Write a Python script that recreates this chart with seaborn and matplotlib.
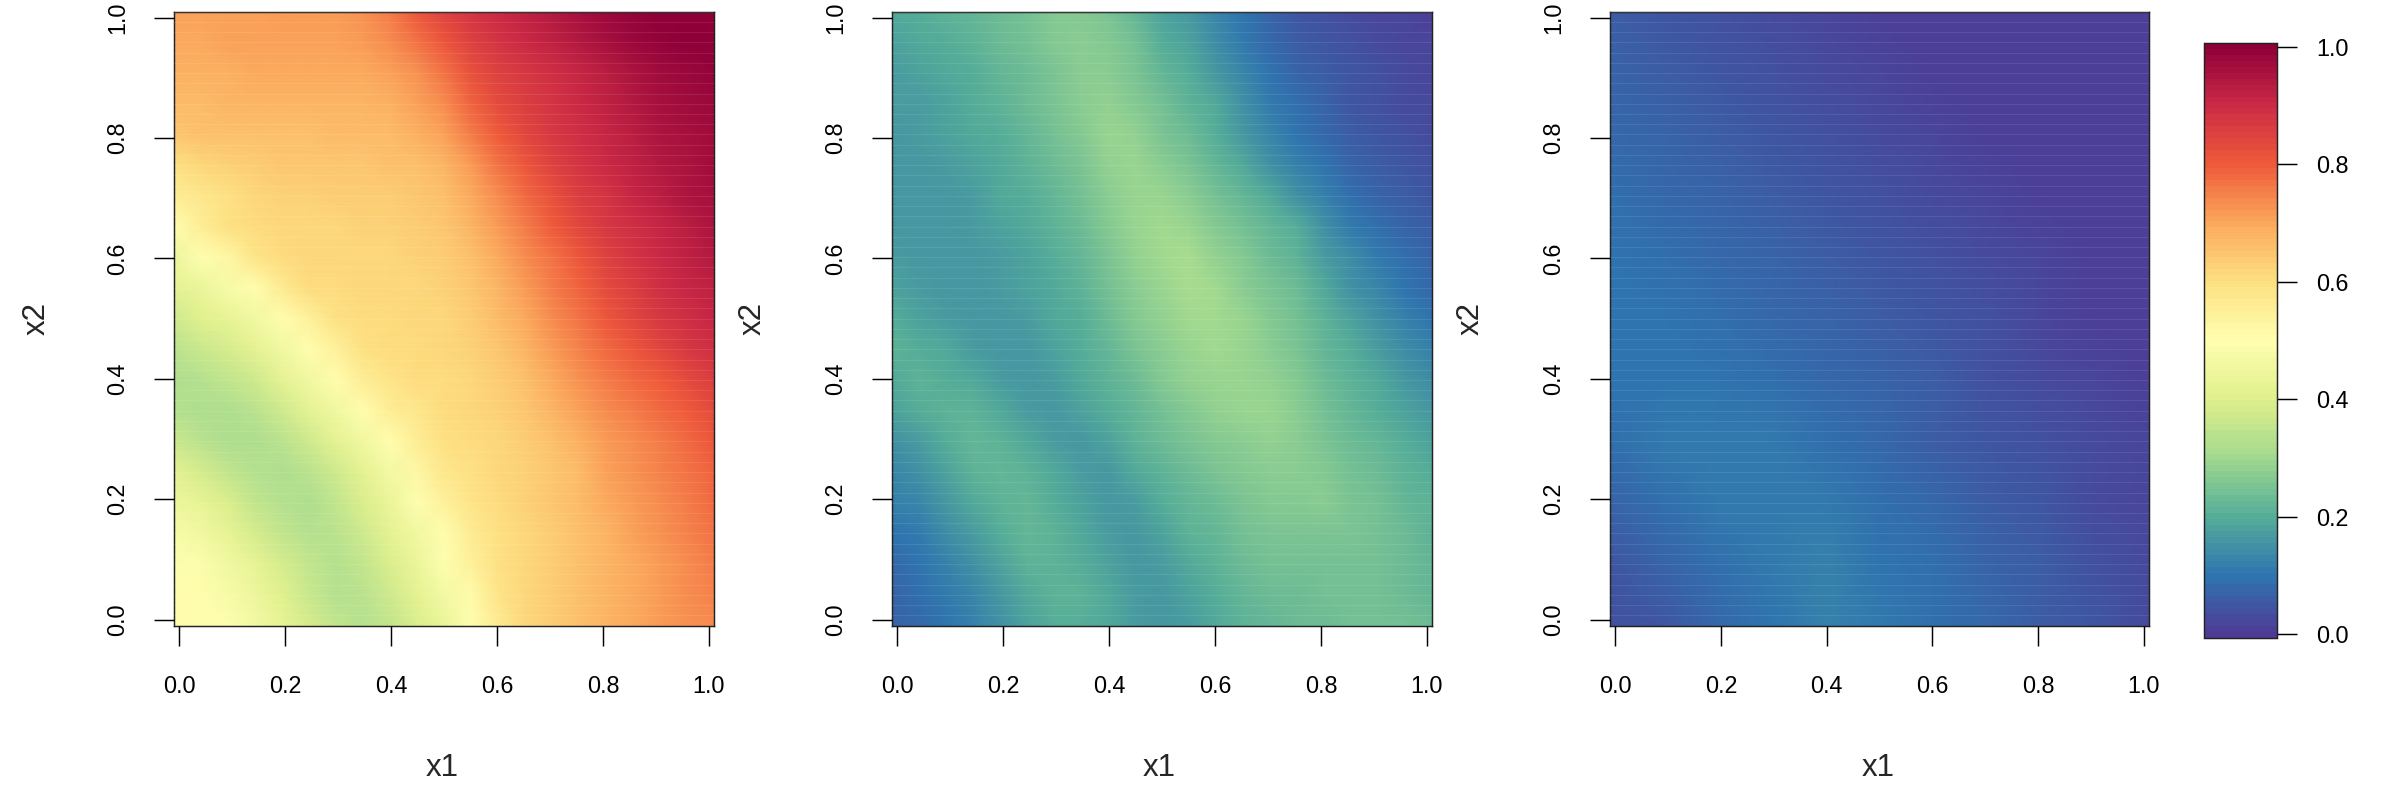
import numpy as np
import matplotlib
matplotlib.use("Agg")
import matplotlib.pyplot as plt
import seaborn as sns

# Values, rows run from x2 = 1.0 down to x2 = 0.0, columns from x1 = 0.0 to 1.0
panel_left = [
    [.71,.71,.71,.71,.72,.72,.72,.73,.76,.81,.85,.88,.90,.92,.94,.96,.98,.99,1.0,1.0,1.0],
    [.70,.70,.71,.71,.71,.71,.71,.72,.74,.77,.81,.85,.88,.90,.92,.94,.96,.98,.99,1.0,1.0],
    [.69,.69,.69,.70,.70,.70,.70,.70,.71,.73,.77,.82,.85,.87,.89,.91,.93,.95,.97,.98,.99],
    [.67,.67,.68,.68,.68,.68,.68,.68,.69,.71,.74,.79,.83,.86,.88,.90,.92,.94,.96,.97,.98],
    [.65,.66,.66,.66,.66,.66,.67,.67,.67,.69,.71,.76,.80,.84,.87,.89,.91,.93,.95,.96,.97],
    [.60,.62,.63,.64,.65,.65,.65,.65,.66,.66,.68,.72,.77,.81,.85,.88,.90,.92,.94,.95,.97],
    [.56,.58,.60,.62,.63,.63,.64,.64,.64,.65,.66,.70,.74,.78,.82,.86,.88,.91,.93,.95,.96],
    [.50,.56,.60,.61,.62,.62,.62,.63,.63,.64,.65,.68,.72,.76,.80,.84,.87,.89,.91,.93,.95],
    [.44,.49,.53,.59,.61,.62,.62,.62,.62,.63,.64,.66,.70,.74,.77,.81,.85,.88,.90,.92,.94],
    [.41,.43,.47,.51,.57,.61,.61,.62,.62,.62,.63,.65,.68,.72,.76,.79,.83,.86,.89,.91,.92],
    [.37,.40,.42,.45,.50,.55,.60,.61,.61,.62,.62,.64,.67,.70,.74,.77,.81,.84,.87,.89,.91],
    [.34,.36,.38,.41,.45,.50,.55,.60,.61,.61,.62,.63,.65,.68,.72,.75,.78,.81,.84,.87,.89],
    [.32,.33,.35,.37,.41,.45,.51,.56,.59,.61,.61,.62,.64,.66,.70,.73,.76,.78,.80,.83,.86],
    [.33,.32,.32,.34,.37,.41,.45,.51,.56,.58,.61,.62,.63,.65,.68,.71,.74,.76,.78,.80,.83],
    [.36,.34,.32,.32,.34,.37,.41,.45,.51,.56,.60,.61,.62,.64,.66,.69,.72,.74,.76,.78,.81],
    [.41,.38,.35,.33,.32,.34,.37,.41,.46,.53,.58,.60,.62,.63,.65,.67,.71,.73,.75,.77,.79],
    [.44,.42,.39,.35,.33,.32,.35,.39,.43,.49,.55,.59,.61,.63,.65,.67,.70,.72,.74,.76,.78],
    [.47,.45,.42,.38,.35,.33,.34,.37,.41,.45,.51,.57,.60,.62,.64,.66,.68,.71,.73,.75,.77],
    [.49,.48,.45,.42,.38,.35,.33,.35,.39,.43,.49,.55,.60,.62,.64,.66,.68,.70,.72,.74,.76],
    [.50,.50,.47,.44,.40,.36,.33,.34,.37,.41,.46,.52,.59,.62,.64,.66,.68,.70,.72,.74,.75],
    [.50,.50,.49,.46,.42,.38,.35,.33,.35,.39,.43,.49,.57,.62,.64,.66,.68,.70,.72,.73,.74],
]
panel_middle = [
    [.19,.20,.21,.22,.23,.245,.26,.26,.25,.225,.185,.165,.125,.095,.07,.05,.04,.03,.02,.015,.01],
    [.18,.19,.20,.215,.23,.245,.26,.27,.265,.24,.205,.18,.145,.105,.08,.06,.045,.035,.025,.02,.015],
    [.175,.185,.19,.205,.22,.235,.255,.27,.27,.255,.225,.20,.16,.125,.095,.07,.055,.045,.035,.03,.02],
    [.17,.175,.185,.20,.215,.23,.25,.27,.28,.265,.24,.215,.19,.15,.11,.085,.065,.05,.04,.03,.025],
    [.165,.17,.18,.19,.205,.22,.24,.265,.29,.28,.255,.23,.20,.165,.13,.10,.075,.06,.045,.035,.03],
    [.165,.165,.175,.18,.195,.21,.23,.255,.285,.295,.27,.25,.225,.195,.155,.12,.095,.07,.055,.045,.04],
    [.16,.16,.165,.175,.19,.205,.22,.245,.27,.295,.295,.27,.245,.22,.195,.15,.115,.09,.07,.055,.05],
    [.165,.16,.16,.17,.18,.195,.21,.23,.26,.29,.305,.29,.265,.24,.22,.20,.155,.105,.085,.07,.06],
    [.17,.16,.16,.165,.175,.185,.20,.225,.25,.28,.305,.31,.285,.26,.235,.21,.17,.135,.105,.085,.07],
    [.18,.17,.16,.16,.17,.18,.195,.215,.24,.27,.295,.31,.30,.275,.25,.23,.19,.155,.125,.095,.08],
    [.20,.185,.17,.16,.16,.175,.19,.205,.23,.26,.285,.305,.305,.29,.265,.24,.215,.185,.15,.12,.10],
    [.21,.20,.19,.17,.165,.165,.18,.20,.22,.25,.275,.295,.30,.295,.275,.25,.225,.205,.17,.14,.12],
    [.195,.21,.205,.19,.175,.16,.17,.19,.21,.235,.26,.28,.295,.295,.285,.26,.235,.215,.195,.16,.14],
    [.18,.20,.215,.21,.19,.17,.16,.18,.20,.225,.245,.265,.28,.29,.29,.27,.245,.225,.205,.185,.16],
    [.15,.175,.20,.22,.21,.19,.17,.16,.185,.21,.23,.25,.265,.275,.28,.275,.255,.235,.22,.20,.18],
    [.13,.155,.185,.21,.22,.21,.19,.17,.165,.195,.215,.235,.25,.26,.27,.275,.265,.245,.23,.215,.20],
    [.115,.13,.16,.195,.215,.22,.205,.185,.165,.175,.20,.22,.235,.25,.26,.265,.27,.255,.24,.225,.21],
    [.095,.11,.135,.175,.205,.22,.215,.195,.175,.16,.185,.21,.225,.24,.25,.255,.255,.25,.24,.23,.215],
    [.08,.095,.115,.15,.185,.21,.215,.205,.185,.165,.17,.195,.215,.23,.24,.245,.245,.245,.24,.23,.22],
    [.07,.085,.105,.13,.165,.195,.21,.21,.195,.175,.16,.18,.205,.22,.23,.235,.24,.24,.24,.235,.225],
    [.07,.08,.095,.115,.15,.185,.205,.205,.195,.175,.16,.17,.19,.21,.22,.23,.235,.24,.24,.24,.23],
]
panel_right = [
    [.06,.05,.04,.03,.02,.01,.005,.005,.005,.005,.005],
    [.07,.06,.05,.04,.03,.02,.01,.005,.005,.005,.005],
    [.08,.07,.06,.05,.04,.03,.015,.01,.005,.005,.005],
    [.085,.08,.07,.06,.05,.04,.025,.015,.01,.005,.005],
    [.095,.09,.08,.07,.06,.05,.035,.025,.015,.01,.005],
    [.10,.095,.09,.08,.07,.06,.045,.035,.02,.01,.005],
    [.10,.10,.10,.09,.08,.07,.055,.04,.03,.02,.01],
    [.09,.105,.105,.105,.09,.08,.06,.05,.035,.025,.015],
    [.07,.09,.105,.11,.105,.09,.075,.06,.045,.03,.02],
    [.05,.07,.09,.105,.115,.10,.085,.07,.055,.04,.025],
    [.04,.05,.08,.095,.115,.105,.09,.075,.06,.045,.03],
]
tick_values = [0.0, 0.2, 0.4, 0.6, 0.8, 1.0]
tick_labels = ["0.0", "0.2", "0.4", "0.6", "0.8", "1.0"]
panels = [panel_left, panel_middle, panel_right]
x_label = "x1"
y_label = "x2"
ramp_colours = ["#4f3a96", "#2e75b0", "#55ad98", "#a0d98f", "#e0f08c", "#ffffb0",
                "#fde081", "#fba95c", "#ef5a3a", "#cc2a45", "#8f0039"]

sns.set_theme(style="white")
plt.rcParams["font.family"] = ["Liberation Sans", "DejaVu Sans"]

W, H = 2400, 800
fig = plt.figure(figsize=(24, 8), dpi=100)


def box(left, right, top, bottom):
    return [left / W, 1 - bottom / H, (right - left) / W, (bottom - top) / H]


boxes = [(174, 714), (892, 1432), (1610, 2149)]
label_x = [442, 1159, 1878]
ylabel_x = [37, 753, 1471]
cax = fig.add_axes(box(2204, 2277, 43, 638))
palette = sns.blend_palette(ramp_colours, n_colors=100)
PAD = 0.0098
TICK_LEN = 14.4
LW = 1.05
TICK_SIZE = 16.8
cbar = None

for i, (grid, (l, r)) in enumerate(zip(panels, boxes)):
    data = np.array(grid)
    n = data.shape[0] - 1
    ax = fig.add_axes(box(l, r, 11.7, 625.5))
    sns.heatmap(data, ax=ax, cmap=palette, vmin=-0.007, vmax=1.007,
                xticklabels=False, yticklabels=False,
                cbar=i == 0, cbar_ax=cax if i == 0 else None,
                shading="gouraud")
    if i == 0:
        cbar = ax.collections[0].colorbar
    ax.set_xlim(0, n)
    ax.set_ylim(n, 0)
    to_x = [(v + PAD) / (1 + 2 * PAD) * n for v in tick_values]
    to_y = [(1 - v + PAD) / (1 + 2 * PAD) * n for v in tick_values]
    ax.set_xticks(to_x, tick_labels)
    ax.set_yticks(to_y, tick_labels)
    ax.tick_params(axis="x", bottom=True, length=TICK_LEN, width=LW, pad=21,
                   labelsize=TICK_SIZE, color="black", labelcolor="black")
    ax.tick_params(axis="y", left=True, length=TICK_LEN, width=LW, pad=18,
                   labelsize=TICK_SIZE, color="black", labelcolor="black")
    for t in ax.get_yticklabels():
        t.set_rotation(90)
        t.set_va("center")
    ax.set_yticks(np.linspace(0, n, 61), minor=True)
    ax.tick_params(axis="y", which="minor", length=0)
    ax.set_axisbelow(False)
    ax.grid(which="minor", axis="y", color="white", alpha=0.09, lw=0.8)
    ax.grid(which="major", visible=False)
    for s in ax.spines.values():
        s.set_visible(True)
        s.set_linewidth(LW)
        s.set_color("#222222")
    fig.text(label_x[i] / W, 1 - 768 / H, x_label, ha="center", va="center", fontsize=22.5)
    fig.text(ylabel_x[i] / W, 1 - 318 / H, y_label, ha="center", va="center",
             rotation=90, fontsize=22.5)

cbar.set_ticks(tick_values, labels=tick_labels)
cax.tick_params(axis="y", right=True, left=False, length=TICK_LEN, width=LW, pad=14,
                labelsize=TICK_SIZE, color="black", labelcolor="black")
cbar.outline.set_linewidth(LW)
cbar.outline.set_edgecolor("#222222")

fig.savefig("out.png", dpi=100)
